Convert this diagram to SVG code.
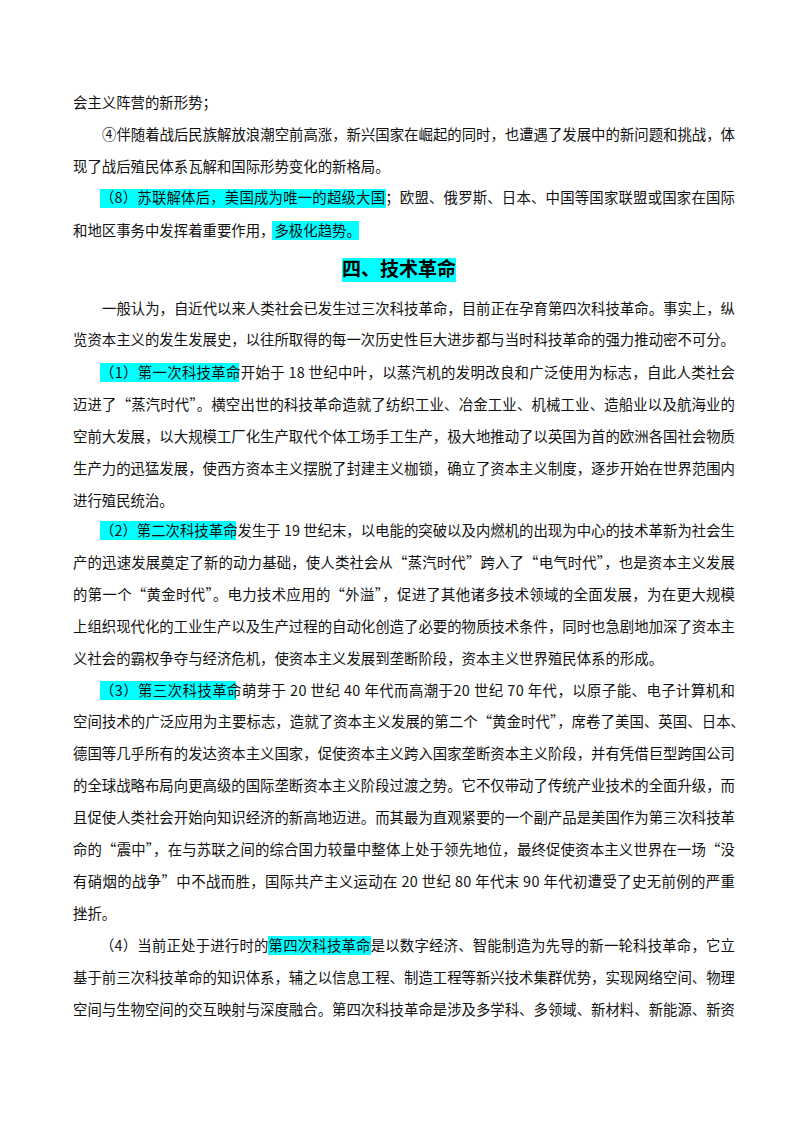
<svg xmlns="http://www.w3.org/2000/svg" width="800" height="1132" viewBox="0 0 800 1132">
<style>
text{font-family:"Noto Sans CJK SC","Liberation Serif",serif;font-size:14.4px;fill:#111}
.j{}
.h{font-size:19px;font-weight:bold;fill:#000}
rect.hl{fill:#00ffff}
</style>
<rect width="800" height="1132" fill="#fff"/>
<g id="highlights">
<rect class="hl" x="100" y="189" width="286" height="19"/>
<rect class="hl" x="272" y="221" width="87" height="19"/>
<rect class="hl" x="342" y="258" width="114" height="24"/>
<rect class="hl" x="100" y="363" width="139" height="19"/>
<rect class="hl" x="100" y="521" width="136" height="19"/>
<rect class="hl" x="100" y="681" width="136" height="19"/>
<rect class="hl" x="268" y="936" width="103" height="19"/>
</g>
<g id="text">
<text x="73" y="108">会主义阵营的新形势；</text>
<text x="102" y="140" textLength="633" lengthAdjust="spacing">④伴随着战后民族解放浪潮空前高涨，新兴国家在崛起的同时，也遭遇了发展中的新问题和挑战，体</text>
<text x="73" y="172">现了战后殖民体系瓦解和国际形势变化的新格局。</text>
<text x="100" y="203" textLength="635" lengthAdjust="spacing">（8）苏联解体后，美国成为唯一的超级大国；欧盟、俄罗斯、日本、中国等国家联盟或国家在国际</text>
<text x="73" y="236">和地区事务中发挥着重要作用，多极化趋势。</text>
<text class="h" x="399" y="276" text-anchor="middle">四、技术革命</text>
<text x="102" y="314" textLength="633" lengthAdjust="spacing">一般认为，自近代以来人类社会已发生过三次科技革命，目前正在孕育第四次科技革命。事实上，纵</text>
<text x="73" y="345" textLength="662" lengthAdjust="spacing">览资本主义的发生发展史，以往所取得的每一次历史性巨大进步都与当时科技革命的强力推动密不可分。</text>
<text x="100" y="378" textLength="635" lengthAdjust="spacing">（1）第一次科技革命开始于 18 世纪中叶，以蒸汽机的发明改良和广泛使用为标志，自此人类社会</text>
<text x="73" y="410" textLength="662" lengthAdjust="spacing">迈进了“蒸汽时代”。横空出世的科技革命造就了纺织工业、冶金工业、机械工业、造船业以及航海业的</text>
<text x="73" y="442" textLength="662" lengthAdjust="spacing">空前大发展，以大规模工厂化生产取代个体工场手工生产，极大地推动了以英国为首的欧洲各国社会物质</text>
<text x="73" y="474" textLength="662" lengthAdjust="spacing">生产力的迅猛发展，使西方资本主义摆脱了封建主义枷锁，确立了资本主义制度，逐步开始在世界范围内</text>
<text x="73" y="506">进行殖民统治。</text>
<text x="100" y="536" textLength="635" lengthAdjust="spacing">（2）第二次科技革命发生于 19 世纪末，以电能的突破以及内燃机的出现为中心的技术革新为社会生</text>
<text x="73" y="568" textLength="662" lengthAdjust="spacing">产的迅速发展奠定了新的动力基础，使人类社会从“蒸汽时代”跨入了“电气时代”，也是资本主义发展</text>
<text x="73" y="600" textLength="662" lengthAdjust="spacing">的第一个“黄金时代”。电力技术应用的“外溢”，促进了其他诸多技术领域的全面发展，为在更大规模</text>
<text x="73" y="632" textLength="662" lengthAdjust="spacing">上组织现代化的工业生产以及生产过程的自动化创造了必要的物质技术条件，同时也急剧地加深了资本主</text>
<text x="73" y="664">义社会的霸权争夺与经济危机，使资本主义发展到垄断阶段，资本主义世界殖民体系的形成。</text>
<text x="100" y="696" textLength="635" lengthAdjust="spacing">（3）第三次科技革命萌芽于 20 世纪 40 年代而高潮于20 世纪 70 年代，以原子能、电子计算机和</text>
<text x="73" y="727" textLength="672" lengthAdjust="spacing">空间技术的广泛应用为主要标志，造就了资本主义发展的第二个“黄金时代”，席卷了美国、英国、日本、</text>
<text x="73" y="759" textLength="662" lengthAdjust="spacing">德国等几乎所有的发达资本主义国家，促使资本主义跨入国家垄断资本主义阶段，并有凭借巨型跨国公司</text>
<text x="73" y="791" textLength="662" lengthAdjust="spacing">的全球战略布局向更高级的国际垄断资本主义阶段过渡之势。它不仅带动了传统产业技术的全面升级，而</text>
<text x="73" y="823" textLength="662" lengthAdjust="spacing">且促使人类社会开始向知识经济的新高地迈进。而其最为直观紧要的一个副产品是美国作为第三次科技革</text>
<text x="73" y="855" textLength="662" lengthAdjust="spacing">命的“震中”，在与苏联之间的综合国力较量中整体上处于领先地位，最终促使资本主义世界在一场“没</text>
<text x="73" y="887" textLength="662" lengthAdjust="spacing">有硝烟的战争”中不战而胜，国际共产主义运动在 20 世纪 80 年代末 90 年代初遭受了史无前例的严重</text>
<text x="73" y="919">挫折。</text>
<text x="100" y="951" textLength="635" lengthAdjust="spacing">（4）当前正处于进行时的第四次科技革命是以数字经济、智能制造为先导的新一轮科技革命，它立</text>
<text x="73" y="983" textLength="662" lengthAdjust="spacing">基于前三次科技革命的知识体系，辅之以信息工程、制造工程等新兴技术集群优势，实现网络空间、物理</text>
<text x="73" y="1015" textLength="662" lengthAdjust="spacing">空间与生物空间的交互映射与深度融合。第四次科技革命是涉及多学科、多领域、新材料、新能源、新资</text>
</g>
</svg>
